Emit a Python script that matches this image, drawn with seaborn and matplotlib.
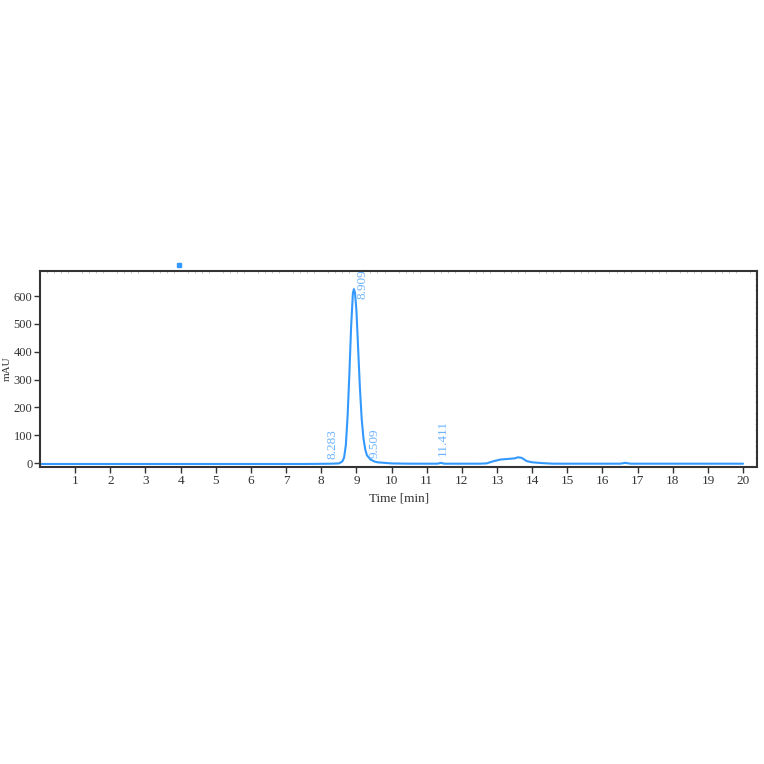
import numpy as np
import pandas as pd
import seaborn as sns
import matplotlib.pyplot as plt
from matplotlib.ticker import MultipleLocator

# chromatogram trace (time in min, signal in mAU)
time_min = [0.0, 2.0, 4.0, 6.0, 7.5, 8.0, 8.283, 8.5, 8.6, 8.65, 8.7, 8.75,
            8.8, 8.85, 8.9, 8.93, 8.96, 9.0, 9.05, 9.1, 9.15, 9.2, 9.25, 9.3,
            9.4, 9.509, 9.6, 9.8, 10.0, 10.5, 11.0, 11.3, 11.411, 11.5, 12.0,
            12.5, 12.7, 12.9, 13.1, 13.3, 13.5, 13.6, 13.7, 13.85, 14.0, 14.3,
            14.6, 15.5, 16.5, 16.65, 16.8, 18.0, 20.0]
signal_mau = [-3, -3, -3, -3, -3, -2.5, -2, -1, 6, 20, 65, 170,
              320, 490, 610, 625, 612, 550, 410, 270, 160, 90, 50, 28,
              13, 6, 3, 1, -1, -2, -2, -2, 1, -2, -2,
              -2, -1, 7, 13, 15, 17, 21, 19, 7, 3, 0,
              -2, -2, -2, 1, -2, -2, -2]

peak_times = ['8.283', '8.909', '9.509', '11.411']
label_x = [8.32, 9.17, 9.51, 11.45]
label_y = [14, 590, 18, 24]

df = pd.DataFrame({'Time': time_min, 'mAU': signal_mau})

sns.set_style('ticks')
plt.rcParams['font.family'] = ['Liberation Serif', 'DejaVu Serif']

fig = plt.figure(figsize=(7.64, 7.64), dpi=100)
ax = fig.add_axes([0.0524, 0.3887, 0.9386, 0.2566])

line_c = '#3399ff'
sns.lineplot(data=df, x='Time', y='mAU', ax=ax, color=line_c, linewidth=1.5)

for txt, lx, ly in zip(peak_times, label_x, label_y):
    ax.text(lx, ly, txt, rotation=90, ha='center', va='bottom',
            color='#6cb4ff', fontsize=9.5, clip_on=True)

# small stray marker above the frame
ax.plot([3.95], [712], marker='s', ms=2.5, color=line_c, clip_on=False)

ax.set_xlim(0, 20.4)
ax.set_ylim(-14, 690)
ax.set_xticks(range(1, 21))
ax.set_yticks(range(0, 700, 100))
ax.xaxis.set_minor_locator(MultipleLocator(0.2))
ax.yaxis.set_minor_locator(MultipleLocator(20))
ax.tick_params(axis='both', which='major', direction='out', length=4,
               width=1, colors='#333333', labelsize=9.5, pad=2)
ax.tick_params(axis='y', which='major', labelsize=9, pad=1.5)
ax.tick_params(axis='x', which='minor', top=True, bottom=False,
               direction='in', length=1.5, width=0.5, colors='#aaaaaa')
ax.tick_params(axis='y', which='minor', right=True, left=False,
               direction='in', length=1.5, width=0.5, colors='#aaaaaa')
for s in ax.spines.values():
    s.set_visible(True)
    s.set_color('#333333')
    s.set_linewidth(1.5)

ax.set_xlabel('Time [min]', fontsize=9.5, color='#333333', labelpad=4)
ax.set_ylabel('mAU', fontsize=8, color='#333333')
ax.yaxis.set_label_coords(-0.039, 0.5)

fig.savefig('out.png', dpi=100)
